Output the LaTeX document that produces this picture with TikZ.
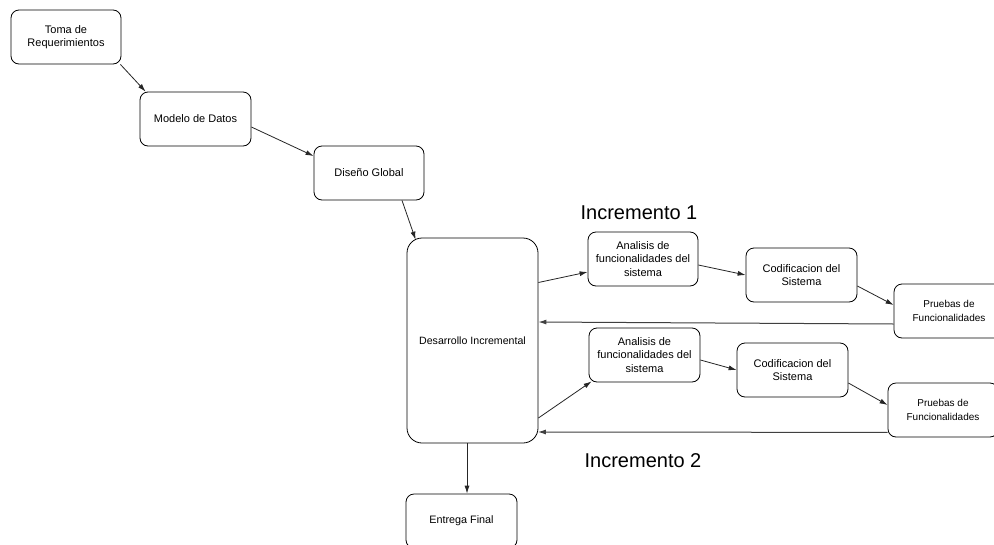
\documentclass[tikz,border=0pt]{standalone}
\usepackage{fontspec}
\setmainfont{Liberation Sans}
\usetikzlibrary{arrows.meta}
\begin{document}
\begin{tikzpicture}[x=1pt,y=-1pt,
  box/.style={draw=black, line width=0.8pt, rounded corners=8pt, align=center,
    inner sep=0pt, minimum width=110pt, minimum height=54pt, fill=white,
    font=\fontsize{11}{13.5}\selectfont},
  conn/.style={draw=black!85, line width=0.8pt, -{Latex[length=8pt,width=5pt]}},
  back/.style={draw=black!75, line width=1pt, -{Latex[length=8pt,width=5pt]}},
  lbl/.style={font=\fontsize{20}{24}\selectfont, inner sep=0pt}]
\clip (0,0) rectangle (994,544);
\fill[white] (0,0) rectangle (994,544);

\node[box] (toma) at (66,37) {Toma de\\Requerimientos};
\node[box, minimum width=111pt] (modelo) at (195.5,119) {Modelo de Datos};
\node[box] (diseno) at (369,173) {Diseño Global};
\node[box, minimum width=131pt, minimum height=205pt, rounded corners=15pt, font=\fontsize{10.6}{13.5}\selectfont] (des) at (472.5,340.5) {Desarrollo Incremental};
\node[box] (an1) at (643,259) {Analisis de\\funcionalidades del\\sistema};
\node[box, minimum width=111pt] (an2) at (644.5,355) {Analisis de\\funcionalidades del\\sistema};
\node[box, minimum width=111pt] (cod1) at (801.5,275) {Codificacion del\\Sistema};
\node[box, minimum width=111pt] (cod2) at (792.5,370) {Codificacion del\\Sistema};
\node[box, font=\fontsize{10}{14}\selectfont] (pr1) at (949,311) {Pruebas de\\Funcionalidades};
\node[box, font=\fontsize{10}{14}\selectfont] (pr2) at (943,410) {Pruebas de\\Funcionalidades};
\node[box, minimum width=111pt, font=\fontsize{10.8}{13.5}\selectfont] (ent) at (461.5,521) {Entrega Final};

\node[lbl] (inc1) at (639,213) {Incremento 1};
\node[lbl] (inc2) at (643,461) {Incremento 2};

\draw[conn] ([xshift=-1pt]toma.south east) -- ([xshift=6pt]modelo.north west);
\draw[conn] ([yshift=-8pt]modelo.east) -- ([yshift=17pt]diseno.west);
\draw[conn] ([xshift=33pt]diseno.south) -- ([xshift=9pt,yshift=-2pt]des.north west);
\draw[conn] ([yshift=58pt]des.east) -- ([yshift=-13pt]an1.west);
\draw[conn] ([yshift=-77.5pt]des.east) -- ([xshift=3pt,yshift=1pt]an2.south west);
\draw[conn] ([yshift=-6pt]an1.east) -- (cod1.west);
\draw[conn] ([yshift=-11pt]cod1.east) -- ([yshift=6pt]pr1.west);
\draw[conn] ([yshift=-5pt]an2.east) -- (cod2.west);
\draw[conn] ([yshift=-13pt]cod2.east) -- ([yshift=5pt]pr2.west);
\draw[back] ([yshift=-13pt]pr1.west) -- ([yshift=18.5pt]des.east);
\draw[back] ([yshift=5pt]pr2.south west) -- ([xshift=-0.5pt,yshift=-91.5pt]des.east);
\draw[conn] ([xshift=-5.5pt]des.south) -- ([xshift=5.5pt]ent.north);
\end{tikzpicture}
\end{document}
